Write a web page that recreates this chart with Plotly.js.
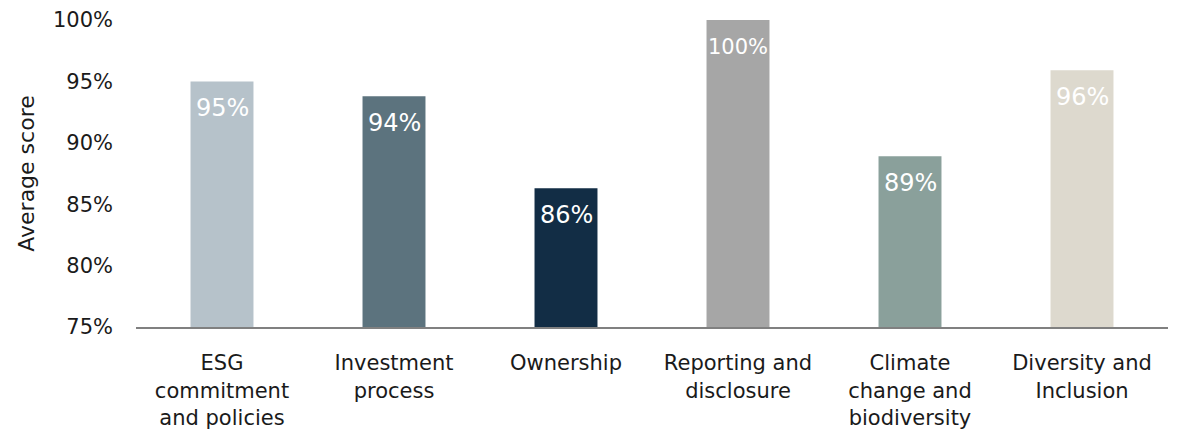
<!DOCTYPE html>
<html>
<head>
<meta charset="utf-8">
<script src="https://cdn.plot.ly/plotly-3.0.1.min.js"></script>
<style>
  html, body { margin: 0; padding: 0; background: #ffffff; }
  #chart { width: 1183px; height: 431px; }
</style>
</head>
<body>
<div id="chart"></div>
<script>
// ---- data ----
const categories = [
  "ESG<br>commitment<br>and policies",
  "Investment<br>process",
  "Ownership",
  "Reporting and<br>disclosure",
  "Climate<br>change and<br>biodiversity",
  "Diversity and<br>Inclusion"
];
const scores = [95.0, 93.8, 86.3, 100.0, 88.9, 95.9];
const scoreLabels = ["95%", "94%", "86%", "100%", "89%", "96%"];
const barColors = ["#b6c2ca", "#5c737e", "#122d45", "#a6a6a6", "#8aa09b", "#ddd9ce"];
const yTickValues = [75, 80, 85, 90, 95, 100];
const yTickLabels = ["75%", "80%", "85%", "90%", "95%", "100%"];

const FONT = "DejaVu Sans, Inter, sans-serif";

const trace = {
  type: "bar",
  x: categories,
  y: scores,
  marker: { color: barColors },
  hoverinfo: "skip"
};

const annotations = categories.map((c, i) => ({
  x: c,
  y: scores[i],
  xref: "x",
  yref: "y",
  text: scoreLabels[i],
  showarrow: false,
  yanchor: "middle",
  xanchor: "center",
  yshift: -27,
  font: { family: FONT, size: scoreLabels[i].length > 3 ? 21 : 24, color: "#ffffff" }
}));

const layout = {
  width: 1183,
  height: 431,
  margin: { l: 136, r: 15, t: 20, b: 104, pad: 0 },
  paper_bgcolor: "#ffffff",
  plot_bgcolor: "#ffffff",
  bargap: 0.634,
  showlegend: false,
  font: { family: FONT, color: "#1a1a1a" },
  xaxis: {
    showgrid: false,
    zeroline: false,
    showline: true,
    linecolor: "#808080",
    linewidth: 2,
    ticks: "",
    ticklabelstandoff: 16,
    tickfont: { family: FONT, size: 21, color: "#1a1a1a" },
    automargin: false,
    fixedrange: true
  },
  yaxis: {
    range: [75, 100],
    tickvals: yTickValues,
    ticktext: yTickLabels,
    showgrid: false,
    zeroline: false,
    showline: false,
    ticks: "",
    ticklabelstandoff: 22,
    tickfont: { family: FONT, size: 21, color: "#1a1a1a" },
    title: { text: "Average score", font: { family: FONT, size: 22, color: "#1a1a1a" }, standoff: 12 },
    automargin: false,
    fixedrange: true
  },
  annotations: annotations
};

Plotly.newPlot("chart", [trace], layout, { displayModeBar: false, staticPlot: true });
</script>
</body>
</html>
